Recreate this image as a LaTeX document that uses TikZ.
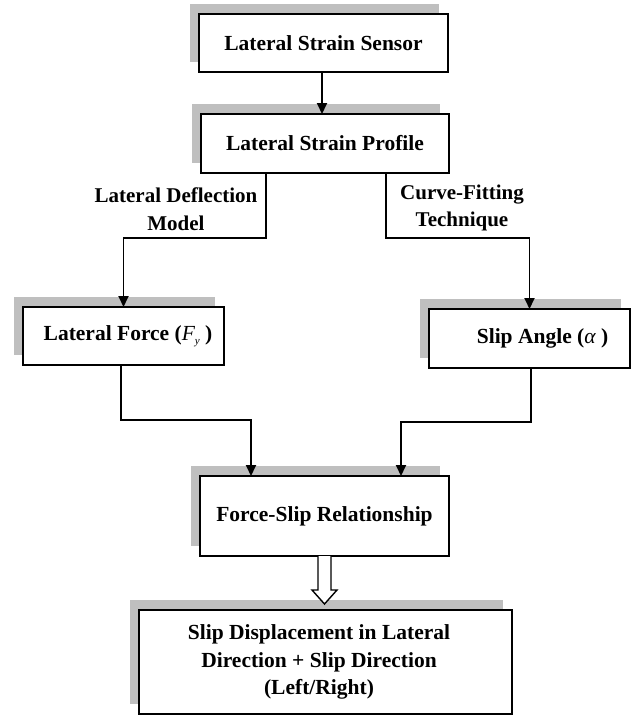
\documentclass[tikz,border=0pt]{standalone}
\usepackage{fontspec}
\setmainfont{Liberation Serif}
\usetikzlibrary{arrows.meta,calc,backgrounds}
\begin{document}
\begin{tikzpicture}[x=1pt,y=-1pt,
  box/.style={draw=black,line width=1.9pt,fill=white,inner sep=0pt,outer sep=0pt,
    font=\fontsize{21.5}{27.5}\selectfont\bfseries,align=center},
  lbl/.style={font=\fontsize{21}{27.5}\selectfont\bfseries,align=center,inner sep=0pt},
  arr/.style={line width=1.9pt,-{Triangle[length=11pt,width=10pt]}},
  hollow/.style={line width=1.4pt,draw=black,fill=white},
  shadowgray/.style={fill=black!25}]
\useasboundingbox (0,0) rectangle (638,715);
\node[box,minimum width=249pt,minimum height=58pt] (b1) at (323.5,43) {Lateral Strain Sensor};
\node[box,minimum width=248pt,minimum height=59pt] (b2) at (325,143.5) {Lateral Strain Profile};
\node[box,minimum width=201pt,minimum height=58pt] (b3) at (123.5,336) {\hspace*{9pt}Lateral Force ({\mdseries\itshape F}\raisebox{-4pt}{\fontsize{11}{12}\selectfont\mdseries\itshape y} )};
\node[box,minimum width=201pt,minimum height=59pt] (b4) at (529.5,338.5) {\hspace*{26pt}Slip Angle ({\mdseries\itshape α} )};
\node[box,minimum width=249pt,minimum height=80pt] (b5) at (324.5,516) {Force-Slip Relationship};
\node[box,minimum width=373pt,minimum height=104pt] (b6) at (325.5,662) {\hspace*{-13pt}Slip Displacement in Lateral\\\hspace*{-13pt}Direction + Slip Direction\\\hspace*{-13pt}(Left/Right)};
\begin{scope}[on background layer]
  \foreach \n in {b1,b2,b3,b4,b5,b6}
    \fill[shadowgray] ($(\n.north west)+(-9,-10)$) rectangle ($(\n.south east)+(-9,-10)$);
\end{scope}
\node[lbl] (l1) at (176,209) {Lateral Deflection\\Model};
\node[lbl] (l2) at (462,208) {Curve-Fitting\\Technique};
\coordinate (kL) at (266,238);
\coordinate (kR) at (386,238);
\coordinate (jL) at (121,420);
\coordinate (jR) at (531,422);
\coordinate (eL) at (251,0);
\coordinate (eR) at (401,0);
\draw[arr] (b1.south -| 322,0) -- (b2.north -| 322,0);
\draw[arr] (b2.south -| kL) -- (kL) -| (b3.north);
\draw[arr] (b2.south -| kR) -- (kR) -| (b4.north);
\draw[arr] (b3.south -| jL) -- (jL) -| (b5.north -| eL);
\draw[arr] (b4.south -| jR) -- (jR) -| (b5.north -| eR);
\draw[hollow] ($(b5.south)+(-6.5,0)$) -- ($(b5.south)+(-6.5,34)$) -- ($(b5.south)+(-12.5,34)$)
  -- ($(b6.north)+(-1,-6)$) -- ($(b5.south)+(12.5,34)$) -- ($(b5.south)+(6.5,34)$) -- ($(b5.south)+(6.5,0)$);
\end{tikzpicture}
\end{document}
